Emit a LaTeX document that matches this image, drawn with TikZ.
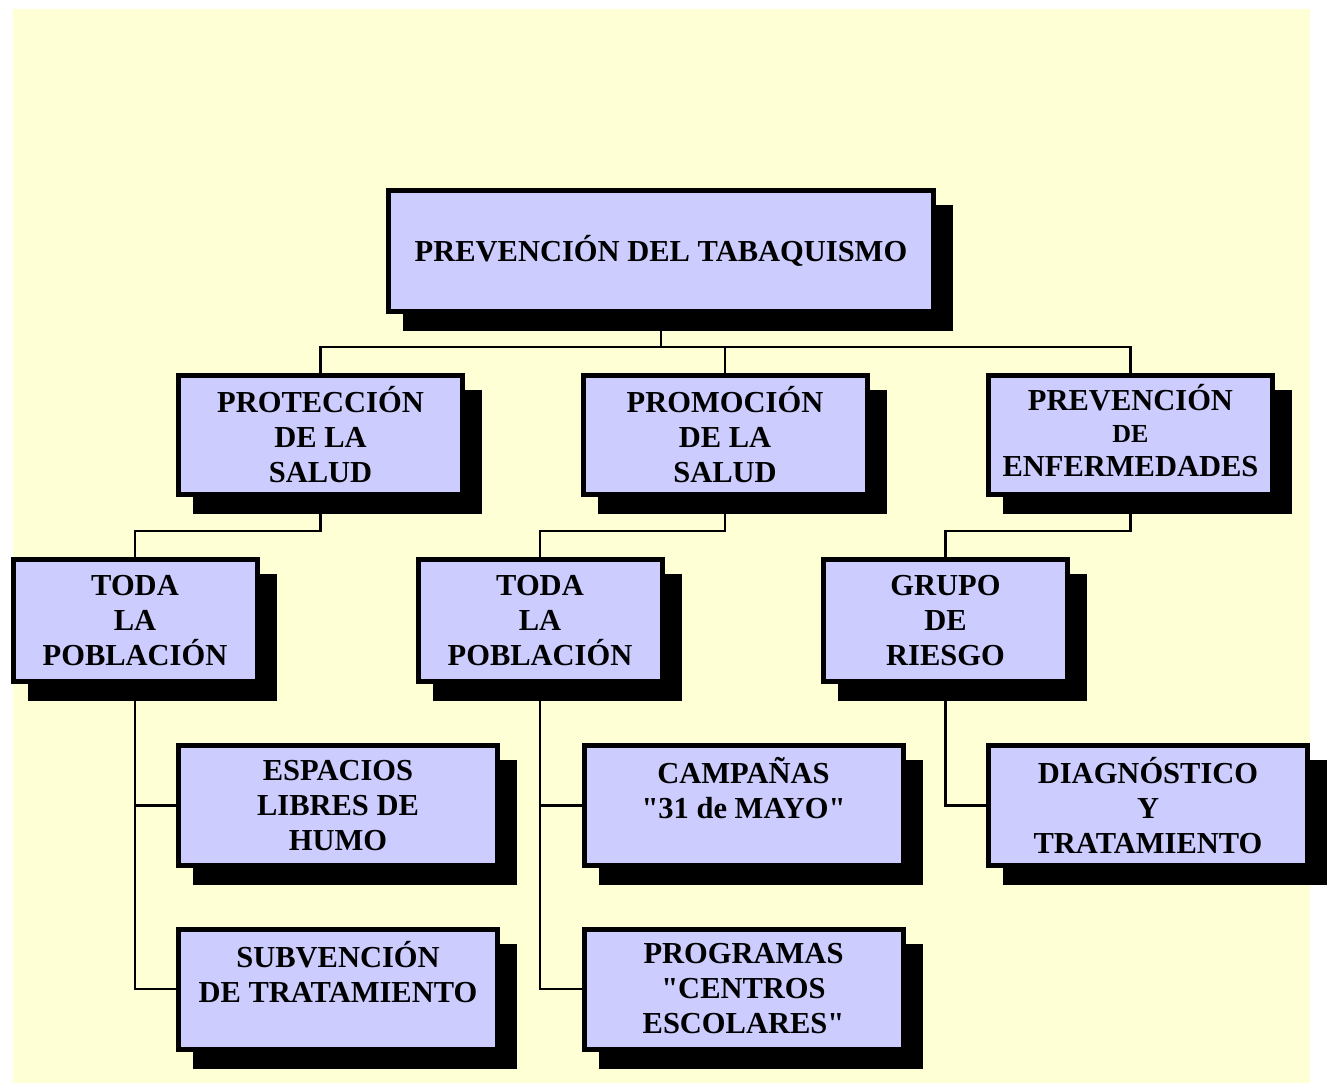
\documentclass[tikz,border=0pt]{standalone}
\usepackage{fontspec}
\setmainfont{Liberation Serif}
\usetikzlibrary{shadows}
\definecolor{bgyellow}{HTML}{FFFFD6}
\definecolor{boxfill}{HTML}{CCCCFF}
\newcommand{\dq}{\XeTeXglyph\XeTeXglyphindex "quotedbl"\relax}
\begin{document}
\begin{tikzpicture}[x=1pt,y=-1pt,
  box/.style={draw=black, line width=5pt, fill=boxfill, inner sep=0pt, align=center,
    font=\fontsize{30.5}{35}\selectfont\bfseries,
    drop shadow={shadow xshift=17pt, shadow yshift=-17pt, opacity=1, fill=black, draw=black, line width=5pt}},
  topbox/.style={box, minimum width=545pt, minimum height=121pt},
  lvtwo/.style={box, minimum width=284pt, minimum height=119pt},
  lvthree/.style={box, minimum width=244pt, minimum height=122pt},
  lvfour/.style={box, minimum width=319pt, minimum height=120pt},
  link/.style={line width=2.5pt, draw=black}]
\useasboundingbox (0,0) rectangle (1335,1083);
\fill[bgyellow] (13,9) rectangle (1310,1083);

\node[topbox] (top) at (661,251) {PREVENCIÓN DEL TABAQUISMO};

\node[lvtwo] (prot) at (320.5,435) {PROTECCIÓN\\DE LA\\SALUD};
\node[lvtwo] (prom) at (725,435) {PROMOCIÓN\\DE LA\\SALUD};
\node[lvtwo, text depth=9pt] (prev) at (1130.5,435) {PREVENCIÓN\\[-3pt]{\fontsize{26}{30}\selectfont DE}\\[-1pt]ENFERMEDADES};

\node[lvthree] (todaA) at (135,620.5) {TODA\\LA\\POBLACIÓN};
\node[lvthree] (todaB) at (540,620.5) {TODA\\LA\\POBLACIÓN};
\node[lvthree] (grupo) at (945.5,620.5) {GRUPO\\DE\\RIESGO};

\node[lvfour] (esp) at (338,805.5) {ESPACIOS\\LIBRES DE\\HUMO};
\node[lvfour] (subv) at (338,989) {SUBVENCIÓN\\DE TRATAMIENTO\\\mbox{}};
\node[lvfour] (camp) at (743.5,805.5) {CAMPAÑAS\\\dq 31 de MAYO\dq\\\mbox{}};
\node[lvfour] (progr) at (743.5,989) {PROGRAMAS\\\dq CENTROS\\ESCOLARES\dq};
\node[lvfour] (diag) at (1148,805.5) {DIAGNÓSTICO\\Y\\TRATAMIENTO};

\coordinate (bus) at (661,347);
\draw[link] (top.south) -- (bus);
\draw[link] (prot.north) |- (bus) -| (prev.north);
\draw[link] (prom.north) -- (prom.north |- bus);

\draw[link] (prot.south) -- ++(0,34) -| (todaA.north);
\draw[link] (prom.south) -- ++(0,34) -| (todaB.north);
\draw[link] (prev.south) -- ++(0,34) -| (grupo.north);

\draw[link] (todaA.south) |- (esp.west);
\draw[link] (todaA.south) |- (subv.west);
\draw[link] (todaB.south) |- (camp.west);
\draw[link] (todaB.south) |- (progr.west);
\draw[link] (grupo.south) |- (diag.west);
\end{tikzpicture}
\end{document}
